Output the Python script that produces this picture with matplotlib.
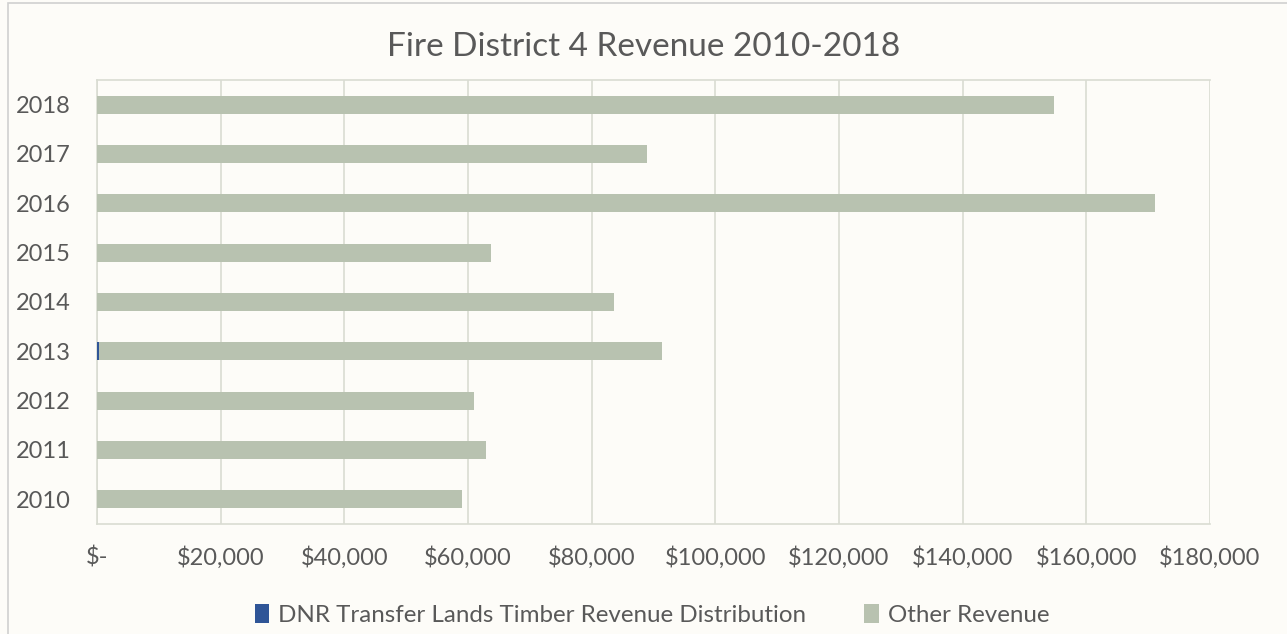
import matplotlib
matplotlib.use("Agg")
import matplotlib.pyplot as plt
from matplotlib.patches import Rectangle
from matplotlib.ticker import FuncFormatter

years = ["2010", "2011", "2012", "2013", "2014", "2015", "2016", "2017", "2018"]
dnr_revenue = [0, 0, 0, 350, 0, 0, 0, 0, 0]
other_revenue = [59000, 62900, 61000, 91000, 83600, 63700, 171100, 89000, 154800]

title = "Fire District 4 Revenue 2010-2018"
series_names = ["DNR Transfer Lands Timber Revenue Distribution", "Other Revenue"]

plt.rcParams['font.family'] = ['Lato', 'DejaVu Sans']
bg = "#FDFCF8"
text_color = "#595959"
grid_color = "#D9DCD2"

fig = plt.figure(figsize=(12.87, 6.34), dpi=100, facecolor=bg)
ax = fig.add_axes([97/1287, 1-524/634, (1210-97)/1287, (524-80)/634], facecolor=bg)

y = list(range(len(years)))
h = 0.37
ax.barh(y, dnr_revenue, height=h, color="#2F5597", label=series_names[0], zorder=3)
ax.barh(y, other_revenue, height=h, left=dnr_revenue, color="#B8C2B0", label=series_names[1], zorder=3)

ax.set_xlim(0, 180000)
ax.set_ylim(-0.5, len(years) - 0.5)
ax.set_xticks(range(0, 180001, 20000))
ax.xaxis.set_major_formatter(FuncFormatter(lambda v, p: "$-" if v == 0 else f"${v:,.0f}"))
ax.set_yticks(y)
ax.set_yticklabels(years)
ax.grid(axis="x", color=grid_color, linewidth=1.2, zorder=0)
ax.tick_params(axis="both", length=0, labelsize=17, colors=text_color)
ax.tick_params(axis="x", pad=16)
ax.tick_params(axis="y", pad=19)
for s in ax.spines.values():
    s.set_color(grid_color)
    s.set_linewidth(1.2)
ax.spines["right"].set_visible(False)

fig.text(0.5, 1 - 47/634, title, ha="center", va="center", fontsize=24, color=text_color)

leg = fig.legend(loc="center", bbox_to_anchor=(652/1287, 1 - 615/634), ncol=2, frameon=False,
                 fontsize=17.4, labelcolor=text_color, handlelength=0.6, handleheight=0.8,
                 columnspacing=2.4, handletextpad=0.37)

fig.patches.append(Rectangle((8/1287, -0.01), 1.5, 1 - 3/634 + 0.01, transform=fig.transFigure,
                             fill=False, edgecolor="#D0D0D0", linewidth=1.2))

fig.savefig("out.png", dpi=100, facecolor=bg)
